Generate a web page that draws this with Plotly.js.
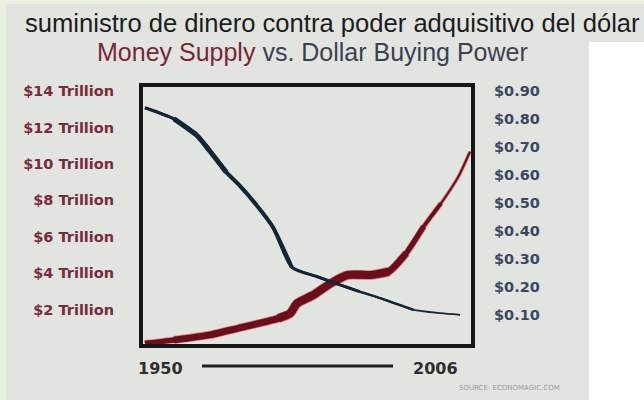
<!DOCTYPE html>
<html>
<head>
<meta charset="utf-8">
<script src="https://cdn.plot.ly/plotly-3.0.1.min.js"></script>
<style>
html,body{margin:0;padding:0;background:#e9f2e1;}
#chart{width:644px;height:400px;}
</style>
</head>
<body>
<div id="chart"></div>
<script>
// ---- data ----
const moneyYears  = [1950, 1955, 1961, 1966, 1973, 1975, 1976.2, 1979, 1982, 1985, 1989, 1992, 1995, 1998, 2001, 2004, 2006];
const moneySupply = [0.15, 0.33, 0.60, 0.97, 1.52, 1.79, 2.34, 2.80, 3.44, 3.90, 3.90, 4.08, 5.09, 6.55, 7.83, 9.30, 10.67]; // trillions of dollars

const powerYears  = [1950, 1955, 1959, 1961, 1964, 1966.4, 1969.3, 1972, 1975.3, 1979.6, 1983.6, 1987, 1990.5, 1996.3, 2001, 2004.3];
const buyingPower = [0.84, 0.80, 0.74, 0.69, 0.61, 0.56, 0.49, 0.415, 0.27, 0.237, 0.207, 0.183, 0.16, 0.118, 0.106, 0.10]; // dollars

const leftTickVals  = [2, 4, 6, 8, 10, 12, 14];
const leftTickText  = ["$2 Trillion", "$4 Trillion", "$6 Trillion", "$8 Trillion", "$10 Trillion", "$12 Trillion", "$14 Trillion"];
const rightTickVals = [0.1, 0.2, 0.3, 0.4, 0.5, 0.6, 0.7, 0.8, 0.9];
const rightTickText = ["$0.10", "$0.20", "$0.30", "$0.40", "$0.50", "$0.60", "$0.70", "$0.80", "$0.90"];
const yearLabels    = ["1950", "2006"];

const mainTitle = "suministro de dinero contra poder adquisitivo del dólar";
const subTitleA = "Money Supply";
const subTitleB = " vs. Dollar Buying Power";
const sourceText = "SOURCE: ECONOMAGIC.COM";

// ---- styling ----
const W = 644, H = 400;
const px = v => v / W;
const py = v => 1 - v / H;

// stroke taper: stacked passes over year ranges (style only)
const redTaper  = [[2, 1950, 2006], [3.5, 1950, 2003.5], [5, 1950, 2000.5], [6.5, 1954, 1997.5], [8, 1967, 1993]];
const blueTaper = [[1.8, 1950, 2005], [2.5, 1950, 1996.5], [3, 1950, 1988], [4, 1952, 1975.5], [5, 1954, 1964.5]];

function taperTraces(xs, ys, axis, color, taper, extra){
  return taper.map(([w, a, b]) => {
    const xx = [], yy = [];
    xs.forEach((x, i) => { if (x >= a && x <= b) { xx.push(x); yy.push(ys[i]); } });
    return {
      x: xx, y: yy, yaxis: axis, type: 'scatter', mode: 'lines',
      line: {color: color, width: w + extra, shape: 'spline', smoothing: 0.6},
      hoverinfo: 'skip', showlegend: false
    };
  });
}

const traces = [].concat(
  taperTraces(powerYears, buyingPower, 'y2', '#12263a', blueTaper, 0),
  taperTraces(moneyYears, moneySupply, 'y', 'rgba(196,36,46,0.55)', redTaper, 1.6),
  taperTraces(moneyYears, moneySupply, 'y', '#6a0e1b', redTaper, 0)
);

const tickFont = {family: 'DejaVu Sans', size: 14.5, weight: 'bold'};

const layout = {
  width: W, height: H,
  margin: {l: 0, r: 0, t: 0, b: 0, pad: 0},
  paper_bgcolor: '#e9f2e1',
  plot_bgcolor: '#e8eae7',
  showlegend: false,
  xaxis: {
    domain: [px(143), px(471)],
    range: [1949.66, 2006.17],
    showgrid: false, zeroline: false, showticklabels: false, ticks: '',
    showline: true, linewidth: 4, linecolor: '#161616', mirror: true,
    fixedrange: true
  },
  yaxis: {
    domain: [py(344), py(87)],
    range: [0.11, 14.22],
    tickvals: leftTickVals, ticktext: leftTickText,
    tickfont: Object.assign({color: '#7a2a3a'}, tickFont),
    ticks: '', ticklabelstandoff: 22,
    showgrid: false, zeroline: false,
    showline: true, linewidth: 4, linecolor: '#161616', mirror: true,
    fixedrange: true
  },
  yaxis2: {
    overlaying: 'y', side: 'right',
    range: [-0.004, 0.914],
    tickvals: rightTickVals, ticktext: rightTickText,
    tickfont: Object.assign({color: '#3b4666'}, tickFont),
    ticks: '', ticklabelstandoff: 22,
    showgrid: false, zeroline: false, showline: false,
    fixedrange: true
  },
  shapes: [
    {type: 'rect', xref: 'paper', yref: 'paper', layer: 'below',
     x0: px(6), x1: px(644), y0: py(400), y1: py(4),
     fillcolor: '#e2e4e0', line: {width: 0}},
    {type: 'rect', xref: 'paper', yref: 'paper', layer: 'below',
     x0: px(589), x1: px(644), y0: py(400), y1: py(42),
     fillcolor: '#ffffff', line: {width: 0}},
    {type: 'line', xref: 'paper', yref: 'paper',
     x0: px(202), x1: px(393), y0: py(366), y1: py(366),
     line: {color: '#1e1e1e', width: 3}}
  ],
  annotations: [
    {text: mainTitle, xref: 'paper', yref: 'paper', x: px(332), y: py(23),
     xanchor: 'center', yanchor: 'middle', showarrow: false,
     font: {family: 'Liberation Sans', size: 25.6, color: '#1c1c1c'}},
    {text: '<span style="color:#7a2636">' + subTitleA + '</span>' + subTitleB,
     xref: 'paper', yref: 'paper', x: px(312), y: py(52),
     xanchor: 'center', yanchor: 'middle', showarrow: false,
     font: {family: 'Liberation Sans', size: 25, color: '#3a4152'}},
    {text: yearLabels[0], xref: 'paper', yref: 'paper', x: px(160), y: py(368),
     xanchor: 'center', yanchor: 'middle', showarrow: false,
     font: {family: 'DejaVu Sans', size: 16, weight: 'bold', color: '#2e2e2e'}},
    {text: yearLabels[1], xref: 'paper', yref: 'paper', x: px(435), y: py(368),
     xanchor: 'center', yanchor: 'middle', showarrow: false,
     font: {family: 'DejaVu Sans', size: 16, weight: 'bold', color: '#2e2e2e'}},
    {text: sourceText, xref: 'paper', yref: 'paper', x: px(509), y: py(388),
     xanchor: 'center', yanchor: 'middle', showarrow: false,
     font: {family: 'DejaVu Sans', size: 7, color: '#9a9a9a'}}
  ]
};

Plotly.newPlot('chart', traces, layout, {displayModeBar: false, staticPlot: true});
</script>
</body>
</html>
